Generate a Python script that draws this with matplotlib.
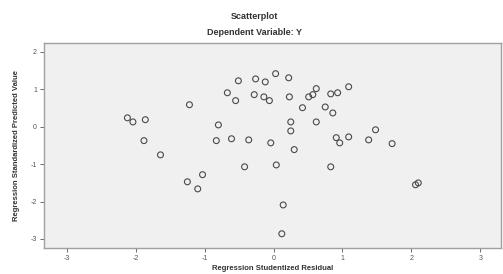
import matplotlib
matplotlib.use("Agg")
import matplotlib.pyplot as plt

residuals = [-0.51, -0.26, -0.12, 0.03, 0.22, -0.67, -0.55, -0.28, -0.14, -0.06,
             0.23, -1.22, -2.12, -2.04, -1.86, -0.80, 0.25, 0.25, -1.88, -0.83,
             -0.61, -0.36, -0.04, 0.30, -1.64, -0.42, 0.04, 0.51, 0.57, 0.62,
             0.83, 0.93, 1.09, 0.42, 0.75, 0.86, 0.62, 1.48, 0.91, 0.96,
             1.09, 1.38, 1.72, 0.83, -1.03, -1.25, -1.10, 0.14, 0.12, 2.10, 2.06]
predicted = [1.23, 1.28, 1.20, 1.42, 1.31, 0.91, 0.70, 0.86, 0.80, 0.70,
             0.80, 0.59, 0.24, 0.13, 0.19, 0.05, 0.13, -0.11, -0.37, -0.37,
             -0.32, -0.35, -0.43, -0.61, -0.75, -1.07, -1.02, 0.80, 0.86, 1.02,
             0.88, 0.91, 1.07, 0.51, 0.53, 0.37, 0.13, -0.08, -0.29, -0.43,
             -0.27, -0.35, -0.45, -1.07, -1.28, -1.47, -1.66, -2.09, -2.86, -1.50, -1.55]

x_ticks = [-3, -2, -1, 0, 1, 2, 3]
y_ticks = [-3, -2, -1, 0, 1, 2]

title = "Scatterplot"
subtitle = "Dependent Variable: Y"
x_label = "Regression Studentized Residual"
y_label = "Regression Standardized Predicted Value"

plt.rcParams['font.family'] = ['Liberation Sans', 'DejaVu Sans']

fig = plt.figure(figsize=(5.03, 2.74), dpi=100)
fig.patch.set_facecolor('white')
ax = fig.add_axes([0.0875, 0.095, 0.9085, 0.748])
ax.set_facecolor('#f0f0f0')

ax.scatter(residuals, predicted, s=18, facecolors='none', edgecolors='#4a4a4a',
           linewidths=0.8, zorder=3)

ax.set_xlim(-3.33, 3.3)
ax.set_ylim(-3.24, 2.24)
ax.set_xticks(x_ticks)
ax.set_yticks(y_ticks)
ax.set_xticklabels([str(t) for t in x_ticks])
ax.set_yticklabels([str(t) for t in y_ticks])
ax.tick_params(axis='both', labelsize=5, colors='#555555', length=3, width=0.6,
               direction='out', pad=2)

for s in ax.spines.values():
    s.set_color('#a0a0a0')
    s.set_linewidth(1.0)

ax.set_xlabel(x_label, fontsize=5.5, fontweight='bold', color='#333333', labelpad=2)
ax.set_ylabel(y_label, fontsize=5.5, fontweight='bold', color='#333333', labelpad=8)

fig.text(0.505, 0.94, title, ha='center', va='center', fontsize=6.5,
         fontweight='bold', color='#333333')
fig.text(0.505, 0.883, subtitle, ha='center', va='center', fontsize=6.5,
         fontweight='bold', color='#333333')

fig.savefig("out.png", dpi=100, facecolor='white')
